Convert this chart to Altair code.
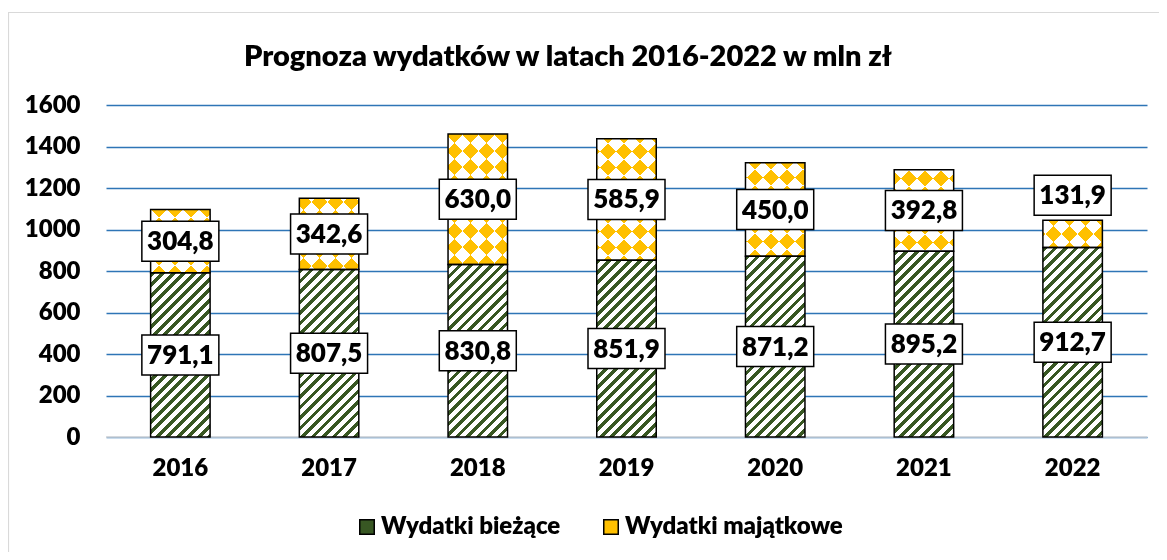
import altair as alt
import pandas as pd

# ---------------- data ----------------
years = ["2016", "2017", "2018", "2019", "2020", "2021", "2022"]
current = [791.1, 807.5, 830.8, 851.9, 871.2, 895.2, 912.7]
capital = [304.8, 342.6, 630.0, 585.9, 450.0, 392.8, 131.9]
series_names = ["Wydatki bieżące", "Wydatki majątkowe"]
chart_title = "Prognoza wydatków w latach 2016-2022 w mln zł"
y_tick_values = [0, 200, 400, 600, 800, 1000, 1200, 1400, 1600]

# ---------------- style ----------------
FONT = "Lato"
WEIGHT = 800
GREEN = "#385723"
GOLD = "#FFC000"
GRID = "#2E75B6"
PLOT_W, PLOT_H = 1041, 332
Y_MAX = 1600
PAD_IN, PAD_OUT = 0.6, 0.3
BOX_W, BOX_H = 77, 40

n = len(years)
step = PLOT_W / (n - PAD_IN + 2 * PAD_OUT)
bar_w = step * (1 - PAD_IN)
px = PLOT_H / Y_MAX


def fmt(v):
    return f"{v:.1f}".replace(".", ",")


df = pd.DataFrame({"year": years, "cur": current, "cap": capital})
df["total"] = df["cur"] + df["cap"]
df["cur_mid"] = df["cur"] / 2
df["cap_mid"] = df["cur"] + df["cap"] / 2
df["cur_txt"] = [fmt(v) for v in current]
df["cap_txt"] = [fmt(v) for v in capital]
df["cap_small"] = (df["cap"] * px) < (BOX_H + 4)


def stripe_gradient(w, h, period, frac, on, off, rising=True):
    """Linear gradient (bbox units) giving 45-degree stripes with a pixel period."""
    D = w + h
    den = w * w + h * h
    gx = w * D / den
    gy = h * D / den
    if rising:
        x1, y1, x2, y2 = 0, 0, gx, gy
    else:
        x1, y1, x2, y2 = 0, 1, gx, 1 - gy
    count = D / period
    stops = []
    k = 0
    while k < count:
        a = round(k / count, 5)
        b = round(min((k + frac) / count, 1.0), 5)
        c = round(min((k + 1) / count, 1.0), 5)
        stops += [
            {"offset": a, "color": on},
            {"offset": b, "color": on},
            {"offset": b, "color": off},
            {"offset": c, "color": off},
        ]
        k += 1
    return {"gradient": "linear", "x1": round(x1, 5), "y1": round(y1, 5),
            "x2": round(x2, 5), "y2": round(y2, 5), "stops": stops}


x_enc = alt.X(
    "year:N",
    scale=alt.Scale(domain=years, paddingInner=PAD_IN, paddingOuter=PAD_OUT),
    axis=alt.Axis(title=None, labelAngle=0, labelFont=FONT, labelFontSize=24,
                  labelFontWeight=WEIGHT, labelColor="black", labelPadding=19,
                  ticks=False, domain=False, grid=False),
)
y_scale = alt.Scale(domain=[0, Y_MAX], nice=False, zero=True)
y_axis = alt.Axis(title=None, values=y_tick_values, format="d", grid=True, gridColor=GRID,
                  gridWidth=1.3, domain=False, ticks=False, labelFont=FONT,
                  labelFontSize=24, labelFontWeight=WEIGHT, labelColor="black",
                  labelPadding=26)


def Y(field):
    return alt.Y(field, type="quantitative", scale=y_scale, axis=y_axis)


base = alt.Chart(df)
layers = []

# frame around the chart
layers.append(
    alt.Chart(pd.DataFrame({"a": [0]})).mark_rect(fill="transparent", stroke="#D9D9D9", strokeWidth=1.2)
    .encode(x=alt.value(-97.5), x2=alt.value(1080), y=alt.value(-92.5), y2=alt.value(520))
)

# zero line
layers.append(
    alt.Chart(pd.DataFrame({"v": [0]})).mark_rule(color="#D9D9D9", strokeWidth=1.5)
    .encode(y=Y("v"))
)

# green hatched segments
for i, yr in enumerate(years):
    g = stripe_gradient(bar_w, current[i] * px, 10.5, 0.45, GREEN, "#FFFFFF", True)
    layers.append(
        base.transform_filter(alt.datum.year == yr)
        .mark_bar(fill=g, strokeWidth=0)
        .encode(x=x_enc, y=Y("cur"))
    )

# gold diamond-pattern segments (xor of two stripe sets, then tinted)
for i, yr in enumerate(years):
    g = stripe_gradient(bar_w, capital[i] * px, 32, 0.5, "#000000", "#FFFFFF", True)
    layers.append(
        base.transform_filter(alt.datum.year == yr)
        .mark_bar(fill=g, strokeWidth=0)
        .encode(x=x_enc, y=Y("cur"), y2=alt.Y2("total"))
    )
for i, yr in enumerate(years):
    g = stripe_gradient(bar_w, capital[i] * px, 32, 0.5, "#000000", "#FFFFFF", False)
    layers.append(
        base.transform_filter(alt.datum.year == yr)
        .mark_bar(fill=g, strokeWidth=0, blend="difference")
        .encode(x=x_enc, y=Y("cur"), y2=alt.Y2("total"))
    )
layers.append(
    base.mark_bar(fill=GOLD, strokeWidth=0, blend="screen")
    .encode(x=x_enc, y=Y("cur"), y2=alt.Y2("total"))
)

# outlines
layers.append(
    base.mark_bar(fill="transparent", stroke="black", strokeWidth=1.5)
    .encode(x=x_enc, y=Y("cur"))
)
layers.append(
    base.mark_bar(fill="transparent", stroke="black", strokeWidth=1.5)
    .encode(x=x_enc, y=Y("cur"), y2=alt.Y2("total"))
)

# label boxes + texts
r = round(BOX_H / BOX_W, 4)
BOX_PATH = f"M-1,-{r} L1,-{r} L1,{r} L-1,{r} Z"
box_kw = dict(shape=BOX_PATH, size=BOX_W ** 2, filled=True, fill="white",
              stroke="black", strokeWidth=1.5, opacity=1, fillOpacity=1, strokeOpacity=1)
txt_kw = dict(font=FONT, fontSize=26, fontWeight=WEIGHT, color="black",
              align="center", baseline="middle", dy=1)
above_off = -(BOX_H / 2 + 5)

layers.append(base.mark_point(**box_kw).encode(x=x_enc, y=Y("cur_mid")))
layers.append(base.mark_text(**txt_kw).encode(x=x_enc, y=Y("cur_mid"), text="cur_txt:N"))

normal = base.transform_filter("!datum.cap_small")
small = base.transform_filter("datum.cap_small")
layers.append(normal.mark_point(**box_kw).encode(x=x_enc, y=Y("cap_mid")))
layers.append(normal.mark_text(**txt_kw).encode(x=x_enc, y=Y("cap_mid"), text="cap_txt:N"))
layers.append(small.mark_point(yOffset=above_off, **box_kw).encode(x=x_enc, y=Y("total")))
layers.append(small.mark_text(yOffset=above_off, **txt_kw).encode(x=x_enc, y=Y("total"), text="cap_txt:N"))

# title
layers.append(
    alt.Chart(pd.DataFrame({"t": [chart_title]}))
    .mark_text(font=FONT, fontSize=29, fontWeight=WEIGHT, color="black",
               align="center", baseline="middle")
    .encode(text="t:N", x=alt.value(462), y=alt.value(-48))
)

# legend (invisible carrier marks)
layers.append(
    alt.Chart(pd.DataFrame({"series": series_names}))
    .mark_square(size=10, opacity=0)
    .encode(
        x=alt.value(0), y=alt.value(0),
        color=alt.Color(
            "series:N",
            scale=alt.Scale(domain=series_names, range=[GREEN, GOLD]),
            legend=alt.Legend(title=None, orient="none", legendX=249, legendY=410,
                              direction="horizontal", symbolType="square",
                              symbolSize=210, symbolStrokeColor="black",
                              symbolStrokeWidth=1.5, symbolOpacity=1,
                              labelFont=FONT, labelFontSize=24, labelFontWeight=WEIGHT,
                              labelColor="black", columnPadding=38, labelOffset=2,
                              labelLimit=0),
        ),
    )
)

chart = (
    alt.layer(*layers)
    .properties(
        width=PLOT_W, height=PLOT_H,
        autosize=alt.AutoSizeParams(type="none"),
        padding={"left": 98, "top": 97, "right": 12, "bottom": 115},
    )
    .configure_view(strokeWidth=0)
)

chart.save("out.html", embed_options={"renderer": "svg", "actions": False})
